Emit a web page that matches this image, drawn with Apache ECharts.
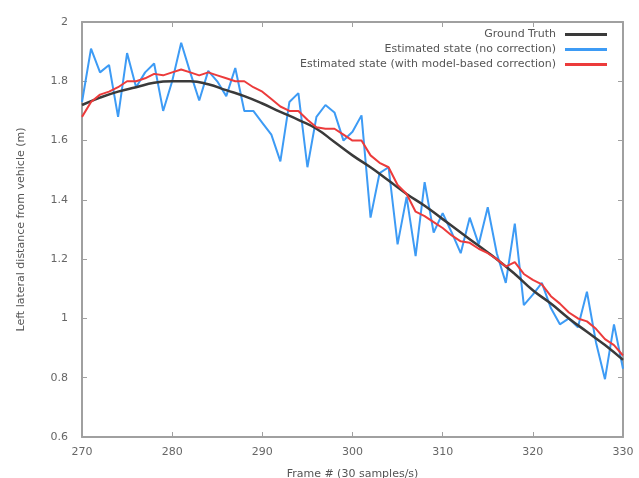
<!DOCTYPE html>
<html>
<head>
<meta charset="utf-8">
<script src="https://cdn.jsdelivr.net/npm/echarts@6/dist/echarts.min.js"></script>
<style>html,body{margin:0;padding:0;background:#fff}#c{width:639px;height:478px}</style>
</head>
<body>
<div id="c"></div>
<script>
var frames = [270,271,272,273,274,275,276,277,278,279,280,281,282,283,284,285,286,287,288,289,290,291,292,293,294,295,296,297,298,299,300,301,302,303,304,305,306,307,308,309,310,311,312,313,314,315,316,317,318,319,320,321,322,323,324,325,326,327,328,329,330];
var noCorrection = [1.73,1.91,1.83,1.855,1.68,1.895,1.78,1.83,1.86,1.70,1.80,1.93,1.83,1.735,1.835,1.80,1.75,1.845,1.70,1.70,1.66,1.62,1.53,1.73,1.76,1.51,1.68,1.72,1.695,1.60,1.63,1.685,1.34,1.49,1.51,1.25,1.41,1.21,1.46,1.29,1.355,1.29,1.22,1.34,1.25,1.375,1.22,1.12,1.32,1.045,1.08,1.12,1.035,0.98,1.00,0.97,1.09,0.92,0.795,0.98,0.83];
var withCorrection = [1.68,1.73,1.755,1.765,1.78,1.80,1.80,1.81,1.825,1.82,1.83,1.84,1.83,1.82,1.83,1.82,1.81,1.80,1.80,1.78,1.765,1.74,1.715,1.70,1.70,1.67,1.645,1.64,1.64,1.62,1.60,1.60,1.55,1.525,1.51,1.45,1.42,1.36,1.345,1.325,1.305,1.28,1.26,1.255,1.235,1.22,1.20,1.175,1.19,1.15,1.13,1.115,1.075,1.05,1.02,1.00,0.99,0.965,0.93,0.91,0.875];
var truthFrames = [270,272,274,276,278,280,282,284,286,288,290,292,294,296,298,300,302,304,306,308,310,312,314,316,318,320,322,324,326,328,330];
var groundTruth = [1.72,1.745,1.765,1.78,1.795,1.80,1.80,1.79,1.77,1.75,1.725,1.697,1.67,1.64,1.595,1.55,1.51,1.465,1.42,1.38,1.335,1.29,1.245,1.20,1.15,1.095,1.05,1.00,0.955,0.91,0.86];
var xTicks = [270,280,290,300,310,320,330];
var yTicks = [0.6,0.8,1,1.2,1.4,1.6,1.8,2];
var names = ['Ground Truth','Estimated state (no correction)','Estimated state (with model-based correction)'];
var colors = ['#3a3a3a','#3d9bf5','#ec3b3b'];

function pairs(xs, ys){ return xs.map(function(x,i){ return [x, ys[i]]; }); }

var FONT = 'DejaVu Sans';
var axisLineStyle = {color:'#a0a0a0', width:2};
var chart = echarts.init(document.getElementById('c'), null, {renderer:'canvas'});
chart.setOption({
  backgroundColor:'#fff',
  animation:false,
  textStyle:{fontFamily:FONT},
  grid:{left:82, right:16, top:22, bottom:41, containLabel:false, outerBoundsMode:'none'},
  legend: names.map(function(n,i){
    return {
      data:[n], right:27, top:24 + i*15, align:'right',
      itemWidth:42, itemHeight:3, itemGap:0, icon:'rect',
      textStyle:{color:'#555', fontSize:11, fontFamily:FONT, padding:[0,4,0,0]},
      selectedMode:false
    };
  }),
  xAxis:[{
    type:'value', min:270, max:330, interval:10, position:'bottom',
    name:'Frame # (30 samples/s)', nameLocation:'middle', nameGap:32,
    nameTextStyle:{color:'#555', fontSize:11, fontFamily:FONT},
    axisLine:{show:true, lineStyle:axisLineStyle},
    axisTick:{show:true, inside:true, length:5, lineStyle:{color:'#a0a0a0', width:1}},
    axisLabel:{color:'#666', fontSize:11, fontFamily:FONT, margin:10,
      formatter:function(v){ return xTicks.indexOf(Math.round(v))>=0 ? String(Math.round(v)) : ''; }},
    splitLine:{show:false}
  },{
    type:'value', min:270, max:330, interval:10, position:'top',
    axisLine:{show:true, lineStyle:axisLineStyle},
    axisTick:{show:true, inside:true, length:5, lineStyle:{color:'#a0a0a0', width:1}},
    axisLabel:{show:false}, splitLine:{show:false}
  }],
  yAxis:[{
    type:'value', min:0.6, max:2, interval:0.2, position:'left',
    name:'Left lateral distance from vehicle (m)', nameLocation:'middle', nameGap:55,
    nameTextStyle:{color:'#555', fontSize:11, fontFamily:FONT},
    axisLine:{show:true, lineStyle:axisLineStyle},
    axisTick:{show:true, inside:true, length:5, lineStyle:{color:'#a0a0a0', width:1}},
    axisLabel:{color:'#666', fontSize:11, fontFamily:FONT, margin:14,
      formatter:function(v){ var r=Math.round(v*10)/10; return yTicks.indexOf(r)>=0 ? String(r) : ''; }},
    splitLine:{show:false}
  },{
    type:'value', min:0.6, max:2, interval:0.2, position:'right',
    axisLine:{show:true, lineStyle:axisLineStyle},
    axisTick:{show:true, inside:true, length:5, lineStyle:{color:'#a0a0a0', width:1}},
    axisLabel:{show:false}, splitLine:{show:false}
  }],
  series:[
    {name:names[1], type:'line', data:pairs(frames,noCorrection), showSymbol:false, symbol:'none',
      color:colors[1], lineStyle:{color:colors[1], width:2}, z:2},
    {name:names[0], type:'line', data:pairs(truthFrames,groundTruth), showSymbol:false, symbol:'none', smooth:true,
      color:colors[0], lineStyle:{color:colors[0], width:2.5}, z:3},
    {name:names[2], type:'line', data:pairs(frames,withCorrection), showSymbol:false, symbol:'none',
      color:colors[2], lineStyle:{color:colors[2], width:2}, z:4}
  ]
});
</script>
</body>
</html>
